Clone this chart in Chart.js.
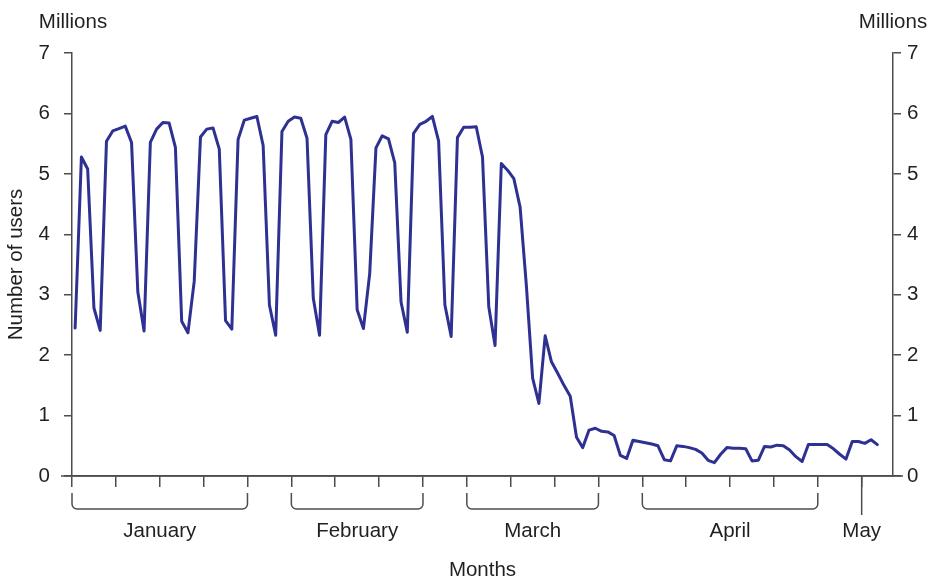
<!DOCTYPE html>
<html>
<head>
<meta charset="utf-8">
<title>Number of users</title>
<script src="https://cdn.jsdelivr.net/npm/chart.js@4.4.1/dist/chart.umd.min.js"></script>
<style>
  html, body { margin: 0; padding: 0; background: #fff; }
</style>
</head>
<body>
<canvas id="usersChart" width="932" height="583"></canvas>
<script>
// daily users (millions), day 0 = first day on the chart
const users = [
  2.45, 5.28, 5.08, 2.78, 2.41, 5.54, 5.71, 5.75, 5.79, 5.52,
  3.05, 2.40, 5.52, 5.74, 5.85, 5.84, 5.44, 2.56, 2.37, 3.22,
  5.61, 5.74, 5.76, 5.41, 2.57, 2.43, 5.57, 5.89, 5.92, 5.95,
  5.47, 2.83, 2.33, 5.70, 5.87, 5.94, 5.92, 5.59, 2.94, 2.33,
  5.65, 5.87, 5.85, 5.94, 5.57, 2.75, 2.44, 3.35, 5.43, 5.63,
  5.58, 5.18, 2.88, 2.38, 5.67, 5.82, 5.87, 5.95, 5.54, 2.83,
  2.31, 5.60, 5.77, 5.77, 5.78, 5.28, 2.80, 2.16, 5.17, 5.06,
  4.92, 4.45, 3.15, 1.62, 1.20, 2.32, 1.89, 1.70, 1.50, 1.32,
  0.64, 0.47, 0.76, 0.79, 0.74, 0.73, 0.67, 0.34, 0.29, 0.59,
  0.57, 0.55, 0.53, 0.50, 0.27, 0.25, 0.50, 0.49, 0.47, 0.44,
  0.38, 0.26, 0.22, 0.36, 0.47, 0.46, 0.46, 0.45, 0.25, 0.26,
  0.49, 0.48, 0.51, 0.50, 0.43, 0.32, 0.24, 0.52, 0.52, 0.52,
  0.52, 0.45, 0.36, 0.28, 0.57, 0.57, 0.54, 0.60, 0.52
];

// weekly tick marks on the x axis (days)
const weekTicks = [0, 7, 14, 21, 28, 35, 42, 49, 56, 63, 70, 77, 84, 91, 98, 105, 112, 119, 126];

// month brackets under the axis (first and last week tick of each)
const monthNames = ["January", "February", "March", "April", "May"];
const monthFrom = [0, 35, 63, 91, 126];
const monthTo = [28, 56, 84, 119, 126];

const AXIS = '#4d4d4d';
const TEXT = '#231f20';
const FONT = { family: "'Liberation Sans', Arial, sans-serif", size: 20.5 };

const bracketPlugin = {
  id: 'brackets',
  afterDraw(chart) {
    const c = chart.ctx;
    const x = chart.scales.x;
    const area = chart.chartArea;
    const base = area.bottom;
    c.save();
    c.strokeStyle = AXIS;
    c.lineWidth = 1.5;

    // axis line runs a bit past both sides
    c.beginPath();
    c.moveTo(area.left - 11, base);
    c.lineTo(area.right + 10, base);
    c.stroke();

    const top = base + 17, bot = base + 33, r = 5;
    monthNames.forEach((name, i) => {
      const x0 = x.getPixelForValue(monthFrom[i]);
      const x1 = x.getPixelForValue(monthTo[i]);
      c.beginPath();
      if (x1 - x0 < 1) {
        c.moveTo(x0, base);
        c.lineTo(x0, base + 39);
      } else {
        c.moveTo(x0, top);
        c.lineTo(x0, bot - r);
        c.arcTo(x0, bot, x0 + r, bot, r);
        c.lineTo(x1 - r, bot);
        c.arcTo(x1, bot, x1, bot - r, r);
        c.lineTo(x1, top);
      }
      c.stroke();

      c.fillStyle = TEXT;
      c.font = FONT.size + 'px ' + FONT.family;
      c.textAlign = 'center';
      c.textBaseline = 'middle';
      c.fillText(name, (x0 + x1) / 2, base + 55);
    });

    // unit labels above both y axes
    c.fillText('Millions', area.left + 1, 22);
    c.fillText('Millions', area.right, 22);
    c.restore();
  }
};

const yAxis = (pos, width, pad) => ({
  position: pos,
  min: 0,
  max: 7,
  ticks: { stepSize: 1, font: FONT, color: TEXT, padding: pad },
  grid: { drawOnChartArea: false, drawTicks: true, tickLength: 8, color: AXIS, lineWidth: 1.5 },
  border: { display: true, color: AXIS, width: 1.5 },
  afterFit(s) { s.width = width; }
});

const left = yAxis('left', 72, 14);
left.title = { display: true, text: 'Number of users', font: FONT, color: TEXT, padding: { top: 4, bottom: 4 } };

new Chart(document.getElementById('usersChart'), {
  type: 'line',
  data: {
    datasets: [{
      data: users.map((v, i) => ({ x: i + 0.5, y: v })),
      borderColor: '#2e3192',
      borderWidth: 3,
      borderJoinStyle: 'round',
      borderCapStyle: 'round',
      pointRadius: 0,
      tension: 0,
      fill: false,
      yAxisID: 'y'
    }]
  },
  options: {
    responsive: false,
    animation: false,
    devicePixelRatio: 1,
    layout: { padding: { top: 53, left: 0, right: 0, bottom: 0 } },
    plugins: { legend: { display: false }, tooltip: { enabled: false } },
    scales: {
      x: {
        type: 'linear',
        min: 0,
        max: 131,
        afterBuildTicks(s) { s.ticks = weekTicks.map(v => ({ value: v })); },
        ticks: { display: false },
        grid: { drawOnChartArea: false, drawTicks: true, tickLength: 11, color: AXIS, lineWidth: 1.5 },
        border: { display: true, color: AXIS, width: 1.5 },
        title: { display: true, text: 'Months', font: FONT, color: TEXT, padding: { top: 0, bottom: 0 } },
        afterFit(s) { s.height = 107; }
      },
      y: left,
      y2: yAxis('right', 39, 6)
    }
  },
  plugins: [bracketPlugin]
});
</script>
</body>
</html>
